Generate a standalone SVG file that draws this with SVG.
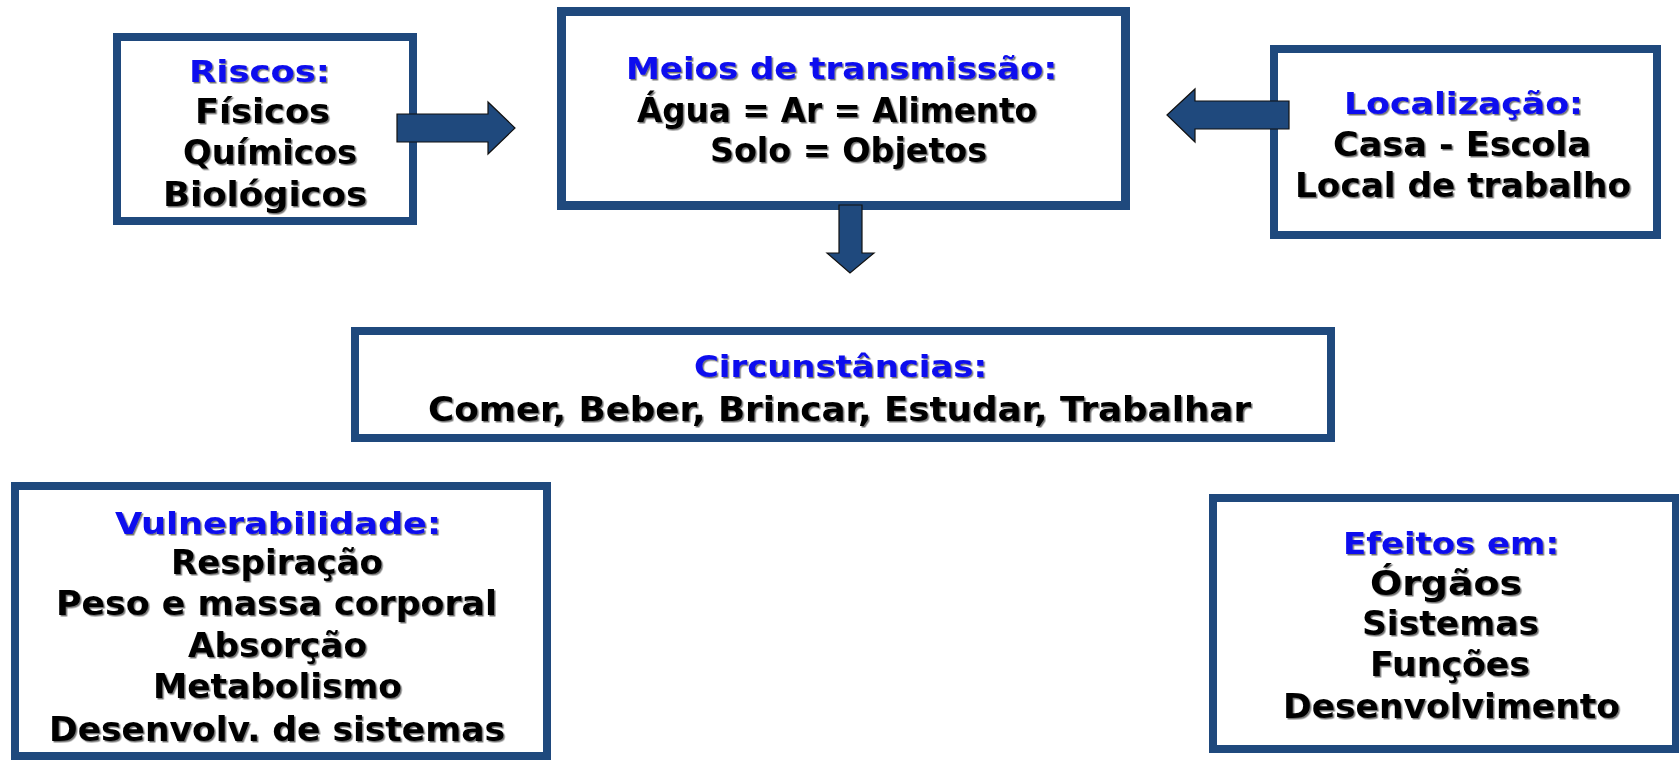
<svg xmlns="http://www.w3.org/2000/svg" width="1679" height="761" viewBox="0 0 1679 761">
<defs>
<filter id="sh" x="-5%" y="-20%" width="110%" height="150%">
<feDropShadow dx="1.5" dy="1.5" stdDeviation="0.6" flood-color="#000" flood-opacity="0.55"/>
</filter>
</defs>
<style>
.box{fill:#fff;stroke:#1f497d;stroke-width:8}
.t{font-family:"DejaVu Sans","Verdana",sans-serif;font-weight:bold;font-size:31px;fill:#0a0aee}
.b{font-family:"DejaVu Sans","Verdana",sans-serif;font-weight:bold;font-size:33px;fill:#000}
.arrow{fill:#1f497d;stroke:#111;stroke-width:1.2;stroke-linejoin:miter}
text{filter:url(#sh)}
</style>
<rect width="1679" height="761" fill="#fff"/>

<g id="riscos">
<rect class="box" x="117" y="37" width="296" height="184"/>
<text class="t" x="189" y="82" textLength="141" lengthAdjust="spacingAndGlyphs">Riscos:</text>
<text class="b" x="195" y="123" textLength="135" lengthAdjust="spacingAndGlyphs">Físicos</text>
<text class="b" x="183" y="164" textLength="174" lengthAdjust="spacingAndGlyphs">Químicos</text>
<text class="b" x="163" y="206" textLength="204" lengthAdjust="spacingAndGlyphs">Biológicos</text>
</g>

<g id="meios">
<rect class="box" x="561.5" y="11.5" width="564" height="194" style="stroke-width:9"/>
<text class="t" x="626" y="79" textLength="431" lengthAdjust="spacingAndGlyphs">Meios de transmissão:</text>
<text class="b" x="637" y="122" textLength="400" lengthAdjust="spacingAndGlyphs">Água = Ar = Alimento</text>
<text class="b" x="710" y="162" textLength="277" lengthAdjust="spacingAndGlyphs">Solo = Objetos</text>
</g>

<g id="localizacao">
<rect class="box" x="1274" y="49" width="383" height="186"/>
<text class="t" x="1344" y="114" textLength="239" lengthAdjust="spacingAndGlyphs">Localização:</text>
<text class="b" x="1333" y="156" textLength="258" lengthAdjust="spacingAndGlyphs">Casa - Escola</text>
<text class="b" x="1295" y="197" textLength="336" lengthAdjust="spacingAndGlyphs">Local de trabalho</text>
</g>

<g id="circunstancias">
<rect class="box" x="355" y="331" width="976" height="107"/>
<text class="t" x="694" y="377" textLength="293" lengthAdjust="spacingAndGlyphs">Circunstâncias:</text>
<text class="b" x="428" y="421" textLength="823" lengthAdjust="spacingAndGlyphs">Comer, Beber, Brincar, Estudar, Trabalhar</text>
</g>

<g id="vulnerabilidade">
<rect class="box" x="15" y="486" width="532" height="270"/>
<text class="t" x="115" y="534" textLength="326" lengthAdjust="spacingAndGlyphs">Vulnerabilidade:</text>
<text class="b" x="171" y="574" textLength="212" lengthAdjust="spacingAndGlyphs">Respiração</text>
<text class="b" x="56" y="615" textLength="441" lengthAdjust="spacingAndGlyphs">Peso e massa corporal</text>
<text class="b" x="188" y="657" textLength="179" lengthAdjust="spacingAndGlyphs">Absorção</text>
<text class="b" x="153" y="698" textLength="249" lengthAdjust="spacingAndGlyphs">Metabolismo</text>
<text class="b" x="49" y="741" textLength="456" lengthAdjust="spacingAndGlyphs">Desenvolv. de sistemas</text>
</g>

<g id="efeitos">
<rect class="box" x="1213" y="498" width="463" height="251"/>
<text class="t" x="1343" y="554" textLength="216" lengthAdjust="spacingAndGlyphs">Efeitos em:</text>
<text class="b" x="1370" y="595" textLength="152" lengthAdjust="spacingAndGlyphs">Órgãos</text>
<text class="b" x="1362" y="635" textLength="177" lengthAdjust="spacingAndGlyphs">Sistemas</text>
<text class="b" x="1370" y="676" textLength="160" lengthAdjust="spacingAndGlyphs">Funções</text>
<text class="b" x="1283" y="718" textLength="337" lengthAdjust="spacingAndGlyphs">Desenvolvimento</text>
</g>

<g id="connectors">
<polygon class="arrow" points="397,114 488,114 488,102 515,128 488,154 488,142 397,142"/>
<polygon class="arrow" points="1167,115 1195,89 1195,101 1289,101 1289,129 1195,129 1195,142"/>
<polygon class="arrow" points="839,205 862,205 862,253 874,253 850,273 827,253 839,253"/>
</g>
</svg>
